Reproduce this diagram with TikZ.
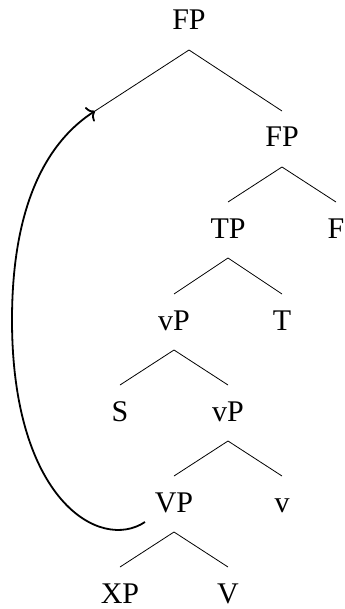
\documentclass[tikz,border=0pt]{standalone}
\usepackage{fontspec}
\setmainfont{Liberation Serif}
\usetikzlibrary{arrows.meta}

\begin{document}
\begin{tikzpicture}[x=0.5pt,y=-0.5pt,every node/.style={font=\fontsize{15}{18}\selectfont,inner sep=0pt,anchor=base}]
\useasboundingbox (0,0) rectangle (344,609);
% labels
\node (fp0) at (189,30) {FP};
\node (fp1) at (282,147) {FP};
\node (tp) at (228,238) {TP};
\node (f) at (336,238) {F};
\node (vp0) at (174,330) {vP};
\node (t) at (282,330) {T};
\node (s) at (120,421) {S};
\node (vp1) at (228,421) {vP};
\node (bigvp) at (174,512) {VP};
\node (smallv) at (282,512) {v};
\node (xp) at (120,603) {XP};
\node (bigv) at (228,603) {V};
% branches
\coordinate (a0) at (189,50);\coordinate (l0) at (95,111);\coordinate (r0) at (282,111);
\coordinate (a1) at (282,167);\coordinate (l1) at (228,202);\coordinate (r1) at (336,202);
\coordinate (a2) at (228,258);\coordinate (l2) at (174,294);\coordinate (r2) at (282,294);
\coordinate (a3) at (174,350);\coordinate (l3) at (120,385);\coordinate (r3) at (228,385);
\coordinate (a4) at (228,441);\coordinate (l4) at (174,476);\coordinate (r4) at (282,476);
\coordinate (a5) at (174,532);\coordinate (l5) at (120,567);\coordinate (r5) at (228,567);
\draw (l0)--(a0)--(r0);
\draw (l1)--(a1)--(r1);
\draw (l2)--(a2)--(r2);
\draw (l3)--(a3)--(r3);
\draw (l4)--(a4)--(r4);
\draw (l5)--(a5)--(r5);
% movement
\coordinate (mv) at (145,522);
\coordinate (mvside) at (12,320);
\draw[line width=.9pt,-{To[length=3.5pt,width=8.5pt]}] (mv) .. controls (100,552) and (12,500) .. (mvside) .. controls (12,200) and (50,140) .. (l0);
\end{tikzpicture}
\end{document}
